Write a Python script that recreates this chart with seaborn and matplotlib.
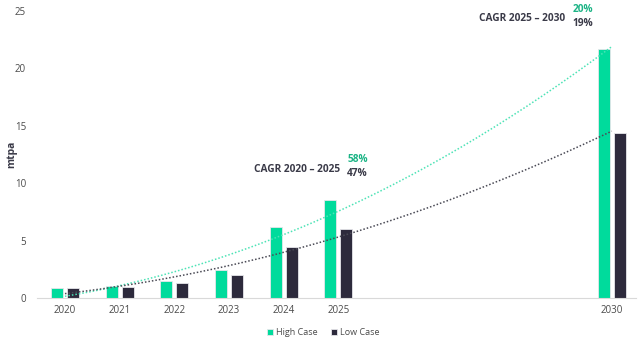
import numpy as np
import pandas as pd
import matplotlib
matplotlib.use("Agg")
import matplotlib.pyplot as plt
import seaborn as sns

# Production capacity, million tonnes per annum
years = [2020, 2021, 2022, 2023, 2024, 2025, 2030]
high_case = [0.87, 1.0, 1.45, 2.47, 6.18, 8.56, 21.7]
low_case = [0.87, 0.95, 1.28, 1.98, 4.4, 5.98, 14.4]
series_names = ["High Case", "Low Case"]
cagr_periods = ["CAGR 2020 – 2025", "CAGR 2025 – 2030"]
cagr_high = ["58%", "20%"]
cagr_low = ["47%", "19%"]

GREEN = "#00DB9C"
DARK = "#2D2A3C"
TREND_GREEN = "#4DE3B6"
TREND_DARK = "#4A4A55"
TEXT = "#3A3A48"
TICK = "#4A4A4A"

sns.set_theme(style="white")
plt.rcParams["font.family"] = ["Open Sans", "DejaVu Sans"]

df = pd.DataFrame({
    "year": years * 2,
    "value": high_case + low_case,
    "case": [series_names[0]] * len(years) + [series_names[1]] * len(years),
})

fig = plt.figure(figsize=(6.39, 3.37), dpi=100)
ax = fig.add_axes([0.058, 0.116, 0.937, 0.851])

sns.barplot(data=df, x="year", y="value", hue="case", native_scale=True,
            palette=[GREEN, DARK], saturation=1, width=0.585, gap=0.25,
            dodge=True, edgecolor="#E6E6EA", linewidth=0.6, ax=ax, legend=True)

# Quadratic trendlines through each series
grid = np.linspace(years[0], years[-1], 200)
for vals, col in [(high_case, TREND_GREEN), (low_case, TREND_DARK)]:
    coef = np.polyfit(np.array(years) - years[0], vals, 2)
    fit = np.polyval(coef, grid - years[0])
    sns.lineplot(x=grid, y=fit, color=col, lw=1.1, ls=(0, (1, 1.3)), ax=ax)

ax.set_xlim(2019.49, 2030.44)
ax.set_ylim(0, 25)
ax.set_xticks(years)
ax.set_xticklabels([str(y) for y in years])
ax.set_yticks([0, 5, 10, 15, 20, 25])
ax.tick_params(axis="both", labelsize=7, colors=TICK, length=0)
ax.tick_params(axis="x", pad=5)
ax.tick_params(axis="y", pad=8)
ax.set_xlabel("")
ax.set_ylabel("mtpa", fontsize=7.5, color=TEXT, fontweight="bold")
ax.yaxis.set_label_coords(-0.033, 0.5)

for side in ["top", "right", "left"]:
    ax.spines[side].set_visible(False)
ax.spines["bottom"].set_color("#D9D9D9")
ax.spines["bottom"].set_linewidth(0.8)

# CAGR annotations
fs = 7.3
ax.text(2025.03, 11.2, cagr_periods[0], ha="right", va="center",
        fontsize=fs, fontweight="bold", color=TEXT)
ax.text(2025.16, 12.1, cagr_high[0], ha="left", va="center",
        fontsize=fs, fontweight="bold", color="#1DB486")
ax.text(2025.16, 10.85, cagr_low[0], ha="left", va="center",
        fontsize=fs, fontweight="bold", color=TEXT)
ax.text(2029.15, 24.35, cagr_periods[1], ha="right", va="center",
        fontsize=fs, fontweight="bold", color=TEXT)
ax.text(2029.28, 25.15, cagr_high[1], ha="left", va="center",
        fontsize=fs, fontweight="bold", color="#1DB486", clip_on=False)
ax.text(2029.28, 23.9, cagr_low[1], ha="left", va="center",
        fontsize=fs, fontweight="bold", color=TEXT)

handles, labels = ax.get_legend_handles_labels()
ax.legend(handles[:2], labels[:2], loc="center", bbox_to_anchor=(0.478, -0.12),
          bbox_transform=ax.transAxes, ncol=2, frameon=False, fontsize=6.5,
          handlelength=0.65, handleheight=0.65, handletextpad=0.4,
          columnspacing=1.4, labelcolor=TICK)

fig.savefig("out.png", dpi=100)
